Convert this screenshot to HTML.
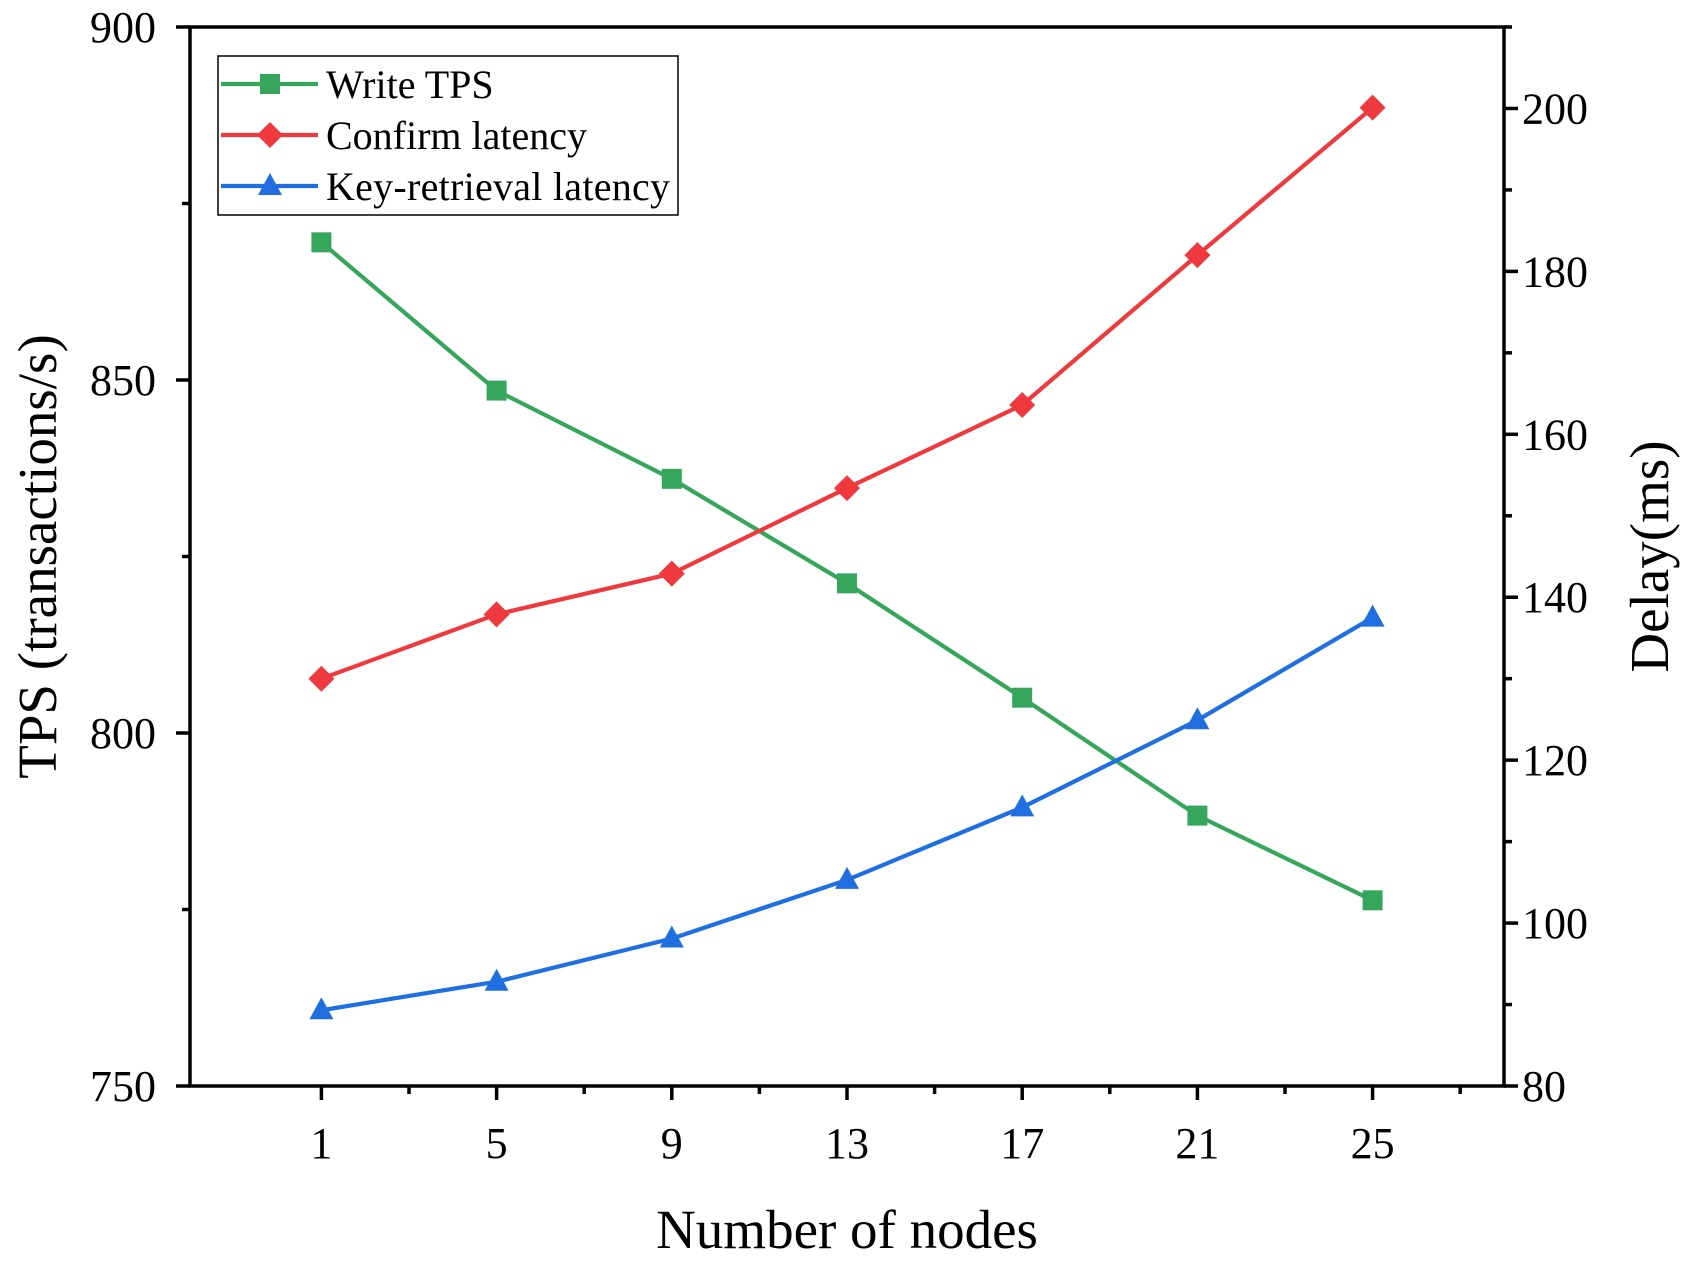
<!DOCTYPE html>
<html><head><meta charset="utf-8"><style>
html,body{margin:0;padding:0;background:#fff;}
svg{display:block;font-family:"Liberation Serif",serif;}
</style></head><body>
<svg id="chart" width="1690" height="1261" viewBox="0 0 1690 1261" xmlns="http://www.w3.org/2000/svg"></svg>
<script>
const categories=[1,5,9,13,17,21,25];
const writeTps=[869.5,848.5,836,821.2,805,788.3,776.3];
const confirmLatency=[130,137.9,142.9,153.4,163.6,182,200.1];
const keyLatency=[89.3,92.8,98.1,105.3,114.2,124.9,137.5];
const xTicks=[1,5,9,13,17,21,25];
const xMinor=[3,7,11,15,19,23,27];
const leftTicks=[750,800,850,900];
const leftMinor=[775,825,875];
const rightTicks=[80,100,120,140,160,180,200];
const rightMinor=[90,110,130,150,170,190,210];

const L=190,R=1504,T=27,B=1086;
const sx=v=>L+(v-(-2))/30*(R-L);
const syL=v=>B-(v-750)/150*(B-T);
const syR=v=>B-(v-80)/130*(B-T);
const svg=document.getElementById('chart');
const NS='http://www.w3.org/2000/svg';
function mk(tag,attrs,parent){const e=document.createElementNS(NS,tag);for(const k in attrs)e.setAttribute(k,attrs[k]);(parent||svg).appendChild(e);return e;}
function txt(s,attrs,parent){const e=mk('text',attrs,parent);e.textContent=s;return e;}

const axes=mk('g',{stroke:'#000','stroke-width':3.5,fill:'none'});


mk('rect',{x:L,y:T,width:R-L,height:B-T},axes);
xTicks.forEach(v=>mk('line',{x1:sx(v),x2:sx(v),y1:B,y2:B+14},axes));
xMinor.forEach(v=>mk('line',{x1:sx(v),x2:sx(v),y1:B,y2:B+8},axes));
leftTicks.forEach(v=>mk('line',{x1:L,x2:L-14,y1:syL(v),y2:syL(v)},axes));
leftMinor.forEach(v=>mk('line',{x1:L,x2:L-8,y1:syL(v),y2:syL(v)},axes));
rightTicks.forEach(v=>mk('line',{x1:R,x2:R+14,y1:syR(v),y2:syR(v)},axes));
rightMinor.forEach(v=>mk('line',{x1:R,x2:R+8,y1:syR(v),y2:syR(v)},axes));

xTicks.forEach(v=>{const t=txt(String(v),{x:sx(v),y:B+72,'font-size':44,'text-anchor':'middle'});

});
leftTicks.forEach(v=>{const t=txt(String(v),{x:L-34,y:syL(v)+15,'font-size':44,'text-anchor':'end'});

});
rightTicks.forEach(v=>{const t=txt(String(v),{x:R+18,y:syR(v)+15,'font-size':44,'text-anchor':'start'});

});

let t=txt('Number of nodes',{x:(L+R)/2,y:1248,'font-size':55,'text-anchor':'middle'});


t=txt('TPS (transactions/s)',{x:0,y:0,'font-size':55,'text-anchor':'middle',transform:'translate(56,'+((T+B)/2)+') rotate(-90)'});


t=txt('Delay(ms)',{x:0,y:0,'font-size':55,'text-anchor':'middle',transform:'translate(1668,'+((T+B)/2)+') rotate(-90)'});



function marker(kind,x,y,color,parent){
  if(kind==='square') return mk('rect',{x:x-10,y:y-10,width:20,height:20,fill:color},parent);
  if(kind==='diamond') return mk('polygon',{points:`${x},${y-13} ${x+13},${y} ${x},${y+13} ${x-13},${y}`,fill:color},parent);
  return mk('polygon',{points:`${x},${y-13} ${x+12},${y+9} ${x-12},${y+9}`,fill:color},parent);
}
function series(vals,sy,color,kind,name){
  const g=mk('g',{});
  
  
  mk('polyline',{points:vals.map((v,i)=>sx(categories[i])+','+sy(v)).join(' '),fill:'none',stroke:color,'stroke-width':4.2},g);
  vals.forEach((v,i)=>{const m=marker(kind,sx(categories[i]),sy(v),color,g);
    
    });
}
const cG='#35a65c',cR='#ee3a3e',cB='#1f6fe0';
series(writeTps,syL,cG,'square','write-tps-series');
series(confirmLatency,syR,cR,'diamond','confirm-latency-series');
series(keyLatency,syR,cB,'triangle','key-retrieval-latency-series');

const lg=mk('g',{});


mk('rect',{x:218,y:56,width:460,height:159,fill:'#fff',stroke:'#000','stroke-width':1.5},lg);
[['Write TPS',cG,'square'],['Confirm latency',cR,'diamond'],['Key-retrieval latency',cB,'triangle']].forEach((e,i)=>{
  const y=84+i*51;
  const eg=mk('g',{},lg);
  
  
  mk('line',{x1:221,x2:318,y1:y,y2:y,stroke:e[1],'stroke-width':4.2},eg);
  marker(e[2],270,y,e[1],eg);
  txt(e[0],{x:326,y:y+14,'font-size':40,textLength:e[0]==='Key-retrieval latency'?344:null},eg);
});
document.querySelectorAll('text[textLength="null"]').forEach(e=>e.removeAttribute('textLength'));
</script>
</body></html>
